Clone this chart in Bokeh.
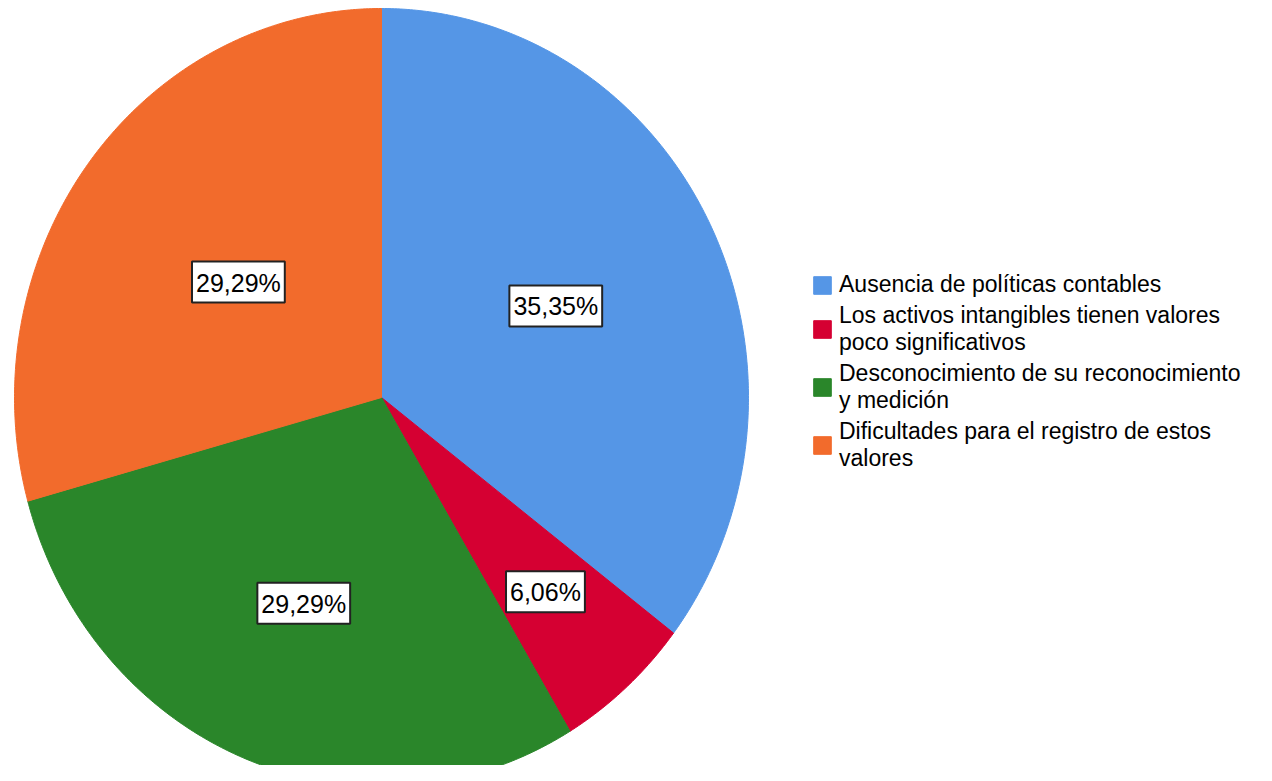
import math
from bokeh.plotting import figure
from bokeh.models import Range1d, ColumnDataSource, Legend, LegendItem
from bokeh.core.properties import value
from bokeh.embed import file_html
from bokeh.resources import INLINE

categories = [
    "Ausencia de políticas contables",
    "Los activos intangibles tienen valores\npoco significativos",
    "Desconocimiento de su reconocimiento\ny medición",
    "Dificultades para el registro de estos\nvalores",
]
counts = [35, 6, 29, 29]
colors = ["#5596E6", "#D50032", "#2A862A", "#F26B2C"]
label_radius = [0.53, 0.67, 0.57, 0.49]

W, H = 1256, 765
cx_px, cy_px = 381, 397
rx_px, ry_px = 367, 389

total = sum(counts)
xs, ys, lx, ly, ltext = [], [], [], [], []
start = 0.0
for c, lr in zip(counts, label_radius):
    frac = c / total
    end = start + frac * 2 * math.pi
    n = max(4, int(frac * 720))
    px, py = [0.0], [0.0]
    for k in range(n + 1):
        t = start + (end - start) * k / n
        px.append(math.sin(t))
        py.append(math.cos(t))
    xs.append(px)
    ys.append(py)
    mid = (start + end) / 2
    lx.append(lr * math.sin(mid))
    ly.append(lr * math.cos(mid))
    ltext.append(f"{frac * 100:.2f}".replace(".", ",") + "%")
    start = end

p = figure(width=W, height=H, output_backend="svg", toolbar_location=None,
           x_range=Range1d(-cx_px / rx_px, (W - cx_px) / rx_px),
           y_range=Range1d(-(H - cy_px) / ry_px, cy_px / ry_px),
           min_border=0)
p.axis.visible = False
p.grid.visible = False
p.outline_line_color = None
p.background_fill_color = "white"
p.border_fill_color = "white"

src = ColumnDataSource(dict(xs=xs, ys=ys, color=colors, cat=categories))
r = p.patches("xs", "ys", source=src, fill_color="color", line_color="color", line_width=1)

lsrc = ColumnDataSource(dict(x=lx, y=ly, t=ltext))
p.text("x", "y", text="t", source=lsrc, text_align="center", text_baseline="middle",
       text_font=value("Liberation Sans"), text_font_size="25px", text_color="#000000",
       background_fill_color="white", border_line_color="#222222", border_line_width=2,
       padding=dict(left=4, right=4, top=7, bottom=6))

items = [LegendItem(label=cat, renderers=[r], index=i) for i, cat in enumerate(categories)]
legend = Legend(items=items, location=(811, H - 472),
                label_text_font="Liberation Sans", label_text_font_size="23px",
                label_text_color="#000000", glyph_width=22, glyph_height=22,
                label_standoff=6, spacing=4, padding=0, margin=0,
                border_line_color=None, background_fill_alpha=0,
                label_text_line_height=0.93)
p.add_layout(legend)

open("out.html", "w").write(file_html(p, INLINE))
